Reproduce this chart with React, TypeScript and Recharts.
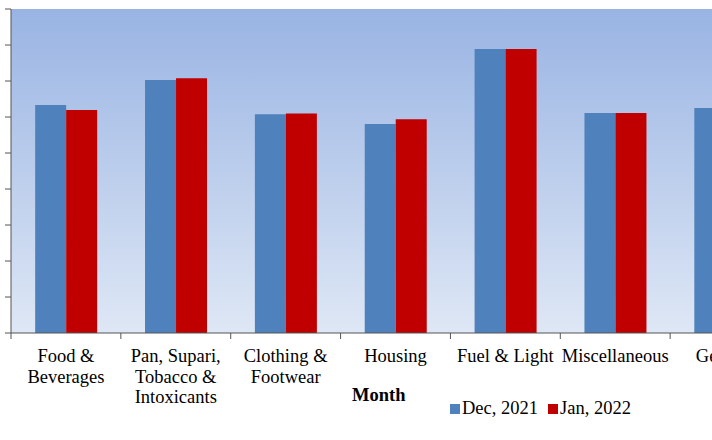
import React from 'react';
import { BarChart, Bar, XAxis, YAxis, CartesianGrid } from 'recharts';

const categories = [
  'Food & Beverages',
  'Pan, Supari, Tobacco & Intoxicants',
  'Clothing & Footwear',
  'Housing',
  'Fuel & Light',
  'Miscellaneous',
  'General',
];

// wrapped lines for the category labels
const tickLines: string[][] = [
  ['Food &', 'Beverages'],
  ['Pan, Supari,', 'Tobacco &', 'Intoxicants'],
  ['Clothing &', 'Footwear'],
  ['Housing'],
  ['Fuel & Light'],
  ['Miscellaneous'],
  ['General'],
];

const dec2021 = [126.7, 140.6, 121.5, 116.1, 157.8, 122.2, 125.0];
const jan2022 = [123.9, 141.5, 122.0, 118.7, 157.8, 122.2, 125.2];

const yTicks = [0, 20, 40, 60, 80, 100, 120, 140, 160, 180];

const seriesNames = ['Dec, 2021', 'Jan, 2022'];
const seriesColors = ['#4F81BD', '#C00000'];

const data = categories.map((name, i) => ({
  name,
  dec: dec2021[i],
  jan: jan2022[i],
}));

const FONT = '"Liberation Serif", "Times New Roman", serif';
const CHART_W = 800;
const PLOT_LEFT = 11;
const PLOT_RIGHT = 780;
const STEP = (PLOT_RIGHT - PLOT_LEFT) / categories.length;

const CategoryTick = (props: any) => {
  const { x, y, payload } = props;
  const lines = tickLines[payload.index] || [payload.value];
  return (
    <g>
      <line x1={x - STEP / 2} x2={x - STEP / 2} y1={y} y2={y + 6} stroke="#555" />
      <text textAnchor="middle" fontFamily={FONT} fontSize={18.5} fill="#000">
        {lines.map((l, i) => (
          <tspan key={i} x={x} y={y + 29 + i * 20.5}>
            {l}
          </tspan>
        ))}
      </text>
    </g>
  );
};

const App: React.FC = () => {
  return (
    <div style={{ position: 'absolute', left: 0, top: 0, width: 712, height: 440, overflow: 'hidden', background: '#fff' }}>
      <BarChart
        width={CHART_W}
        height={440}
        data={data}
        margin={{ top: 9, right: CHART_W - PLOT_RIGHT, left: 0, bottom: 0 }}
        barCategoryGap="22%"
        barGap={0}
      >
        <defs>
          <linearGradient id="plotBg" x1="0" y1="0" x2="0" y2="1">
            <stop offset="0%" stopColor="#99B4E3" />
            <stop offset="100%" stopColor="#DEE7F5" />
          </linearGradient>
        </defs>
        <CartesianGrid horizontal={false} vertical={false} fill="url(#plotBg)" fillOpacity={1} />
        <XAxis
          dataKey="name"
          height={107}
          interval={0}
          tickLine={false}
          tickSize={0}
          tickMargin={0}
          axisLine={{ stroke: '#555' }}
          tick={<CategoryTick />}
        />
        <YAxis
          width={PLOT_LEFT}
          domain={[0, 180]}
          ticks={yTicks}
          tickSize={6}
          tickFormatter={() => ''}
          tickLine={{ stroke: '#555' }}
          axisLine={{ stroke: '#555' }}
        />
        <Bar dataKey="dec" name={seriesNames[0]} fill={seriesColors[0]} isAnimationActive={false} />
        <Bar dataKey="jan" name={seriesNames[1]} fill={seriesColors[1]} isAnimationActive={false} />
      </BarChart>
      <div
        style={{
          position: 'absolute',
          left: 352,
          top: 385,
          fontFamily: FONT,
          fontSize: 18.5,
          fontWeight: 'bold',
          color: '#000',
        }}
      >
        Month
      </div>
      <div
        style={{
          position: 'absolute',
          left: 450,
          top: 398,
          display: 'flex',
          alignItems: 'center',
          fontFamily: FONT,
          fontSize: 18.5,
          color: '#000',
          whiteSpace: 'nowrap',
        }}
      >
        {seriesNames.map((n, i) => (
          <span key={n} style={{ display: 'flex', alignItems: 'center', marginRight: i === 0 ? 10 : 0 }}>
            <span style={{ display: 'inline-block', width: 10, height: 10, background: seriesColors[i], marginRight: 2 }} />
            {n}
          </span>
        ))}
      </div>
    </div>
  );
};

export default App;
